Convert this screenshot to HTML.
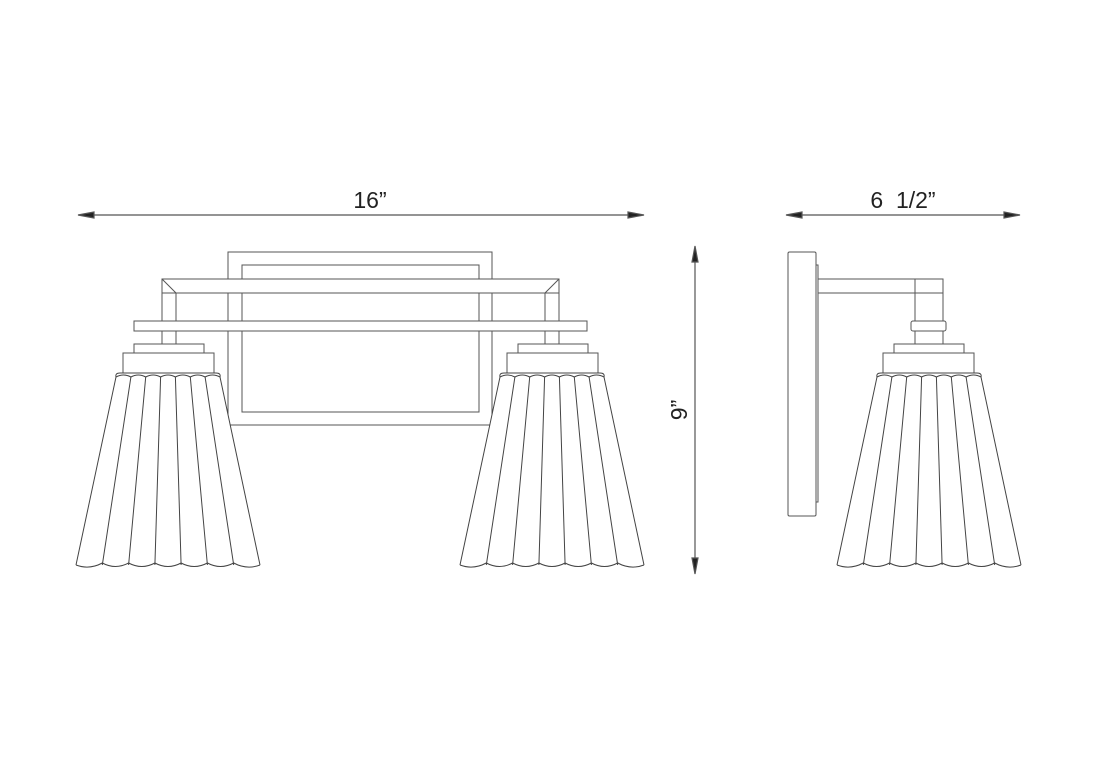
<!DOCTYPE html>
<html><head><meta charset="utf-8"><style>
html,body{margin:0;padding:0;background:#fff;}
svg{display:block;}
text{font-family:"Liberation Sans",sans-serif;fill:#222;}
</style></head><body>
<svg width="1096" height="775" viewBox="0 0 1096 775" xmlns="http://www.w3.org/2000/svg">
<defs>
<g id="shade" fill="none" stroke="#444" stroke-width="1">
<path d="M-52,4 L-92,192 L92,192 L52,4 Z" fill="#fff" stroke="none"/>
<path d="M-52,4 L-92,192 M52,4 L92,192"/>
<path d="M-37.1,4 L-65.7,192 M-22.3,4 L-39.4,192 M-7.4,4 L-13.1,192 M7.4,4 L13.1,192 M22.3,4 L39.4,192 M37.1,4 L65.7,192"/>
<path d="M-52,4 Q-53,0 -48,0 L48,0 Q53,0 52,4"/>
<path d="M-52,4 Q-44.5,0 -37.1,4 Q-29.7,0 -22.3,4 Q-14.8,0 -7.4,4 Q0,0 7.4,4 Q14.8,0 22.3,4 Q29.7,0 37.1,4 Q44.5,0 52,4"/>
<path d="M-92,192 Q-78.8,197 -65.7,190 Q-52.5,197 -39.4,190 Q-26.2,197 -13.1,190 Q0,197 13.1,190 Q26.2,197 39.4,190 Q52.5,197 65.7,190 Q78.8,197 92,192"/>
</g>
<g id="cap" fill="#fff" stroke="#555" stroke-width="1">
<rect x="-34.5" y="-29" width="70" height="9"/>
<rect x="-45.5" y="-20" width="91" height="20"/>
</g>
</defs>

<g stroke="#555" stroke-width="1.2" fill="#222">
<line x1="82" y1="215" x2="640" y2="215"/>
<polygon points="78,215 94,212 94,218"/>
<polygon points="644,215 628,212 628,218"/>
<line x1="790" y1="215" x2="1016" y2="215"/>
<polygon points="786,215 802,212 802,218"/>
<polygon points="1020,215 1004,212 1004,218"/>
<line x1="695" y1="250" x2="695" y2="570"/>
<polygon points="695,246 692,262 698,262"/>
<polygon points="695,574 692,558 698,558"/>
</g>
<text x="370" y="208" font-size="23" text-anchor="middle">16”</text>
<text x="903" y="208" font-size="23" text-anchor="middle" xml:space="preserve">6  1/2”</text>
<text x="0" y="0" font-size="23" text-anchor="middle" transform="translate(687,410) rotate(-90)">9”</text>

<g fill="none" stroke="#555" stroke-width="1">
<rect x="228" y="252" width="264" height="173"/>
<rect x="242" y="265" width="237" height="147"/>
<rect x="162" y="279" width="397" height="14" fill="#fff"/>
<path d="M162,279 L176,293 M559,279 L545,293"/>
<path d="M162,293 V344 M176,293 V344 M545,293 V344 M559,293 V344"/>
<rect x="134" y="321" width="453" height="10" fill="#fff"/>
</g>
<use href="#cap" x="168.5" y="373"/>
<use href="#shade" x="168" y="373"/>
<use href="#cap" x="552.5" y="373"/>
<use href="#shade" x="552" y="373"/>

<g fill="none" stroke="#555" stroke-width="1">
<rect x="788" y="252" width="28" height="264" rx="1.5"/>
<rect x="816" y="265" width="2" height="237"/>
<rect x="818" y="279" width="125" height="14"/>
<line x1="915" y1="279" x2="915" y2="345"/>
<line x1="943" y1="293" x2="943" y2="345"/>
<rect x="911" y="321" width="35" height="10" rx="2" fill="#fff"/>
</g>
<use href="#cap" x="928.5" y="373"/>
<use href="#shade" x="929" y="373"/>
</svg>
</body></html>
